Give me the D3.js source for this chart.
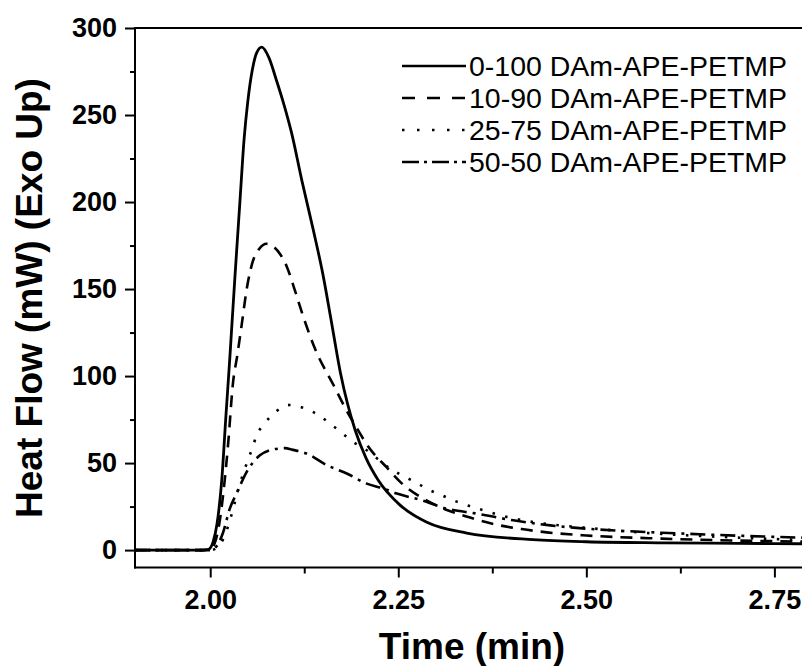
<!DOCTYPE html>
<html>
<head>
<meta charset="utf-8">
<script src="https://cdn.jsdelivr.net/npm/d3@7/dist/d3.min.js"></script>
<style>
  body { margin: 0; background: #fff; }
  text { font-family: "Liberation Sans", Arial, sans-serif; fill: #000; }
</style>
</head>
<body>
<script>
// DSC exotherms, heat flow (mW) vs time (min)
var seriesNames = ["0-100 DAm-APE-PETMP", "10-90 DAm-APE-PETMP", "25-75 DAm-APE-PETMP", "50-50 DAm-APE-PETMP"];

var time0100 = [1.90, 1.99, 1.998, 2.004, 2.009, 2.0153, 2.021, 2.026, 2.0286, 2.033, 2.0396, 2.045, 2.050, 2.056, 2.062, 2.0685, 2.078, 2.088, 2.098, 2.108, 2.122, 2.137, 2.150, 2.160, 2.1735, 2.1926, 2.207, 2.2236, 2.252, 2.288, 2.341, 2.429, 2.50, 2.60, 2.70, 2.80];
var heat0100 = [0, 0, 0.5, 5, 15, 40, 78, 110, 128, 158, 201, 236, 258, 276, 286, 289, 283, 270, 256, 240, 212, 184, 158, 134, 101, 69, 53, 40, 26, 16, 9.8, 6.0, 4.8, 4.2, 3.9, 3.6];

var time1090 = [1.90, 1.99, 2.000, 2.006, 2.012, 2.018, 2.024, 2.030, 2.036, 2.042, 2.0485, 2.056, 2.065, 2.075, 2.085, 2.093, 2.1017, 2.112, 2.1238, 2.140, 2.1637, 2.179, 2.195, 2.210, 2.2347, 2.2568, 2.2856, 2.312, 2.3455, 2.3787, 2.414, 2.4475, 2.50, 2.60, 2.70, 2.80];
var heat1090 = [0, 0, 0.5, 4, 15, 35, 62, 95, 112, 130, 150, 165, 173, 176, 174, 170, 163, 150, 134, 115, 95, 82, 70, 59.5, 47.5, 37.5, 29, 23.5, 18.7, 14.8, 12.1, 10.2, 8.4, 6.6, 5.5, 4.8];

var time2575 = [1.90, 2.000, 2.008, 2.0175, 2.024, 2.030, 2.038, 2.0485, 2.055, 2.0618, 2.073, 2.0884, 2.106, 2.126, 2.1438, 2.159, 2.1748, 2.190, 2.208, 2.2236, 2.239, 2.2546, 2.272, 2.29, 2.308, 2.3255, 2.3455, 2.363, 2.3854, 2.4297, 2.456, 2.50, 2.55, 2.60, 2.70, 2.80];
var heat2575 = [0, 0, 1, 6.6, 14, 23, 36, 49.8, 57.4, 66, 73.2, 80, 83.4, 81.4, 77.6, 72.8, 67.4, 62.2, 57.4, 52, 46.9, 43, 39.2, 34.8, 31.5, 28.2, 25.2, 22.9, 20, 16.1, 14.6, 12.8, 10.8, 9.3, 7.2, 5.6];

var time5050 = [1.90, 2.000, 2.008, 2.017, 2.026, 2.035, 2.0485, 2.066, 2.080, 2.093, 2.100, 2.108, 2.128, 2.155, 2.1815, 2.208, 2.230, 2.248, 2.2813, 2.3145, 2.354, 2.403, 2.452, 2.50, 2.55, 2.60, 2.70, 2.80];
var heat5050 = [0, 0, 2, 10, 23.8, 32.5, 45, 54.5, 57.5, 58.4, 58.6, 57.8, 55.5, 48.8, 44, 38.2, 35.4, 32.5, 28.6, 23.8, 21, 17.1, 14.2, 12.3, 11, 10, 8.3, 7];

var xMajor = [2.00, 2.25, 2.50, 2.75];
var xMinor = [2.125, 2.375, 2.625];
var yMajor = [0, 50, 100, 150, 200, 250, 300];
var yMinor = [25, 75, 125, 175, 225, 275];

var times = [time0100, time1090, time2575, time5050];
var heats = [heat0100, heat1090, heat2575, heat5050];
var curveDash = [null, "12,8", "2.5,10.5", "15,6,3,6"];
var legendDash = [null, "13,12", "2.5,12.5", "17,5,3,5"];

var W = 802, H = 666;
var mLeft = 135, mTop = 28, mBottom = 567.5, mRight = 812;

var svg = d3.select('body').append('svg')
    .attr('width', W)
    .attr('height', H);
svg.append('rect').attr('width', W).attr('height', H).attr('fill', '#fff');

var x = d3.scaleLinear().domain([1.9, 2.8]).range([mLeft, mRight]);
var y = d3.scaleLinear().domain([-10, 300]).range([mBottom, mTop]);

// curves
var line = d3.line()
    .x(function(d){ return x(d[0]); })
    .y(function(d){ return y(d[1]); })
    .curve(d3.curveMonotoneX);

var plot = svg.append('g');
seriesNames.forEach(function(name, i){
    var pts = d3.zip(times[i], heats[i]);
    plot.append('path')
        .datum(pts)
        .attr('d', line)
        .attr('fill', 'none')
        .attr('stroke', '#000')
        .attr('stroke-width', i == 0 ? 2.8 : 2.6)
        .attr('stroke-dasharray', curveDash[i]);
});

// axes
svg.append('g').attr('transform', 'translate(' + mLeft + ',0)')
    .call(d3.axisLeft(y).tickValues(yMajor).tickSize(10).tickPadding(8).tickFormat(d3.format('d')));
svg.append('g').attr('transform', 'translate(' + mLeft + ',0)')
    .call(d3.axisLeft(y).tickValues(yMinor).tickSize(5).tickFormat(''));
svg.append('g').attr('transform', 'translate(0,' + mBottom + ')')
    .call(d3.axisBottom(x).tickValues(xMajor).tickSize(10).tickPadding(12).tickFormat(d3.format('.2f')));
svg.append('g').attr('transform', 'translate(0,' + mBottom + ')')
    .call(d3.axisBottom(x).tickValues(xMinor).tickSize(6).tickFormat(''));

svg.selectAll('.domain').remove();
svg.selectAll('.tick line').attr('stroke', '#000').attr('stroke-width', 2);
svg.selectAll('.tick text')
    .style('font-size', '27px')
    .style('font-weight', 'bold')
    .style('font-family', '"Liberation Sans", Arial, sans-serif');

// spines
var spines = svg.append('g').attr('stroke', '#000').attr('stroke-width', 2).attr('fill', 'none');
spines.append('line').attr('x1', mLeft).attr('x2', mLeft).attr('y1', mTop).attr('y2', mBottom + 1);
spines.append('line').attr('x1', mLeft - 1).attr('x2', mRight).attr('y1', mBottom).attr('y2', mBottom);
spines.append('line').attr('x1', mLeft - 1).attr('x2', mRight).attr('y1', mTop).attr('y2', mTop);

// axis titles
svg.append('text')
    .attr('x', 472).attr('y', 659)
    .attr('text-anchor', 'middle')
    .style('font-size', '37px').style('font-weight', 'bold')
    .text('Time (min)');
svg.append('text')
    .attr('transform', 'translate(42,298) rotate(-90)')
    .attr('text-anchor', 'middle')
    .style('font-size', '37px').style('font-weight', 'bold')
    .text('Heat Flow (mW) (Exo Up)');

// legend
var leg = svg.append('g');
seriesNames.forEach(function(name, i){
    var cy = 66 + i * 32;
    leg.append('line')
        .attr('x1', 402).attr('x2', 466)
        .attr('y1', cy).attr('y2', cy)
        .attr('stroke', '#000')
        .attr('stroke-width', 2.4)
        .attr('stroke-dasharray', legendDash[i]);
    leg.append('text')
        .attr('x', 469).attr('y', cy + 10)
        .attr('textLength', 318)
        .attr('lengthAdjust', 'spacingAndGlyphs')
        .style('font-size', '28px')
        .text(name);
});
</script>
</body>
</html>
